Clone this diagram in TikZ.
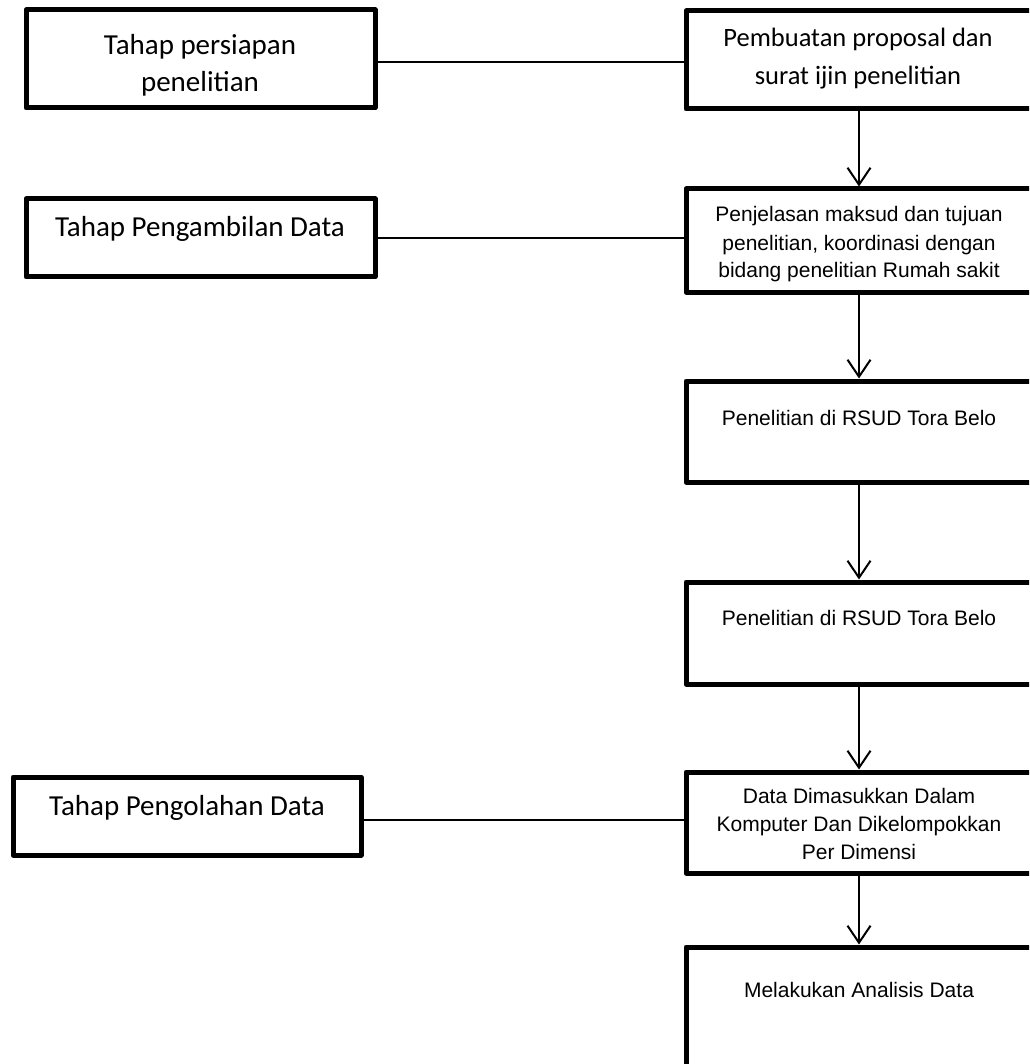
\documentclass[tikz,border=0pt]{standalone}
\usepackage{fontspec}
\newfontfamily\calfont{Carlito}
\newfontfamily\arifont{Liberation Sans}
\usetikzlibrary{arrows.meta,calc}
\tikzset{
  box/.style={draw, line width=5pt, inner sep=0pt, line join=round},
  conn/.style={line width=1.5pt},
  flow/.style={line width=2pt, -{Straight Barb[length=17pt,width=23pt,line width=2pt]}},
  caltext/.style={font=\calfont\fontsize{29}{37}\selectfont, align=center, anchor=base, inner sep=0pt},
  caltextr/.style={font=\calfont\fontsize{26.5}{38}\selectfont, align=center, anchor=base, inner sep=0pt},
  aritext/.style={font=\arifont\fontsize{21}{28}\selectfont, align=center, anchor=base, inner sep=0pt},
}
\begin{document}
\begin{tikzpicture}[x=1pt,y=-1pt]
\useasboundingbox (0,0) rectangle (1029,1064);
\clip (0,0) rectangle (1029,1064);
% left boxes
\node[box, minimum width=349pt, minimum height=98pt] (l1) at (200.5,59) {};
\node[box, minimum width=349pt, minimum height=78pt] (l2) at (200.5,238) {};
\node[box, minimum width=348pt, minimum height=78pt] (l3) at (187,816) {};
% right boxes
\node[box, minimum width=346pt, minimum height=98pt] (r1) at (859,60) {};
\node[box, minimum width=346pt, minimum height=103pt] (r2) at (859,240.5) {};
\node[box, minimum width=346pt, minimum height=101pt] (r3) at (859,431.5) {};
\node[box, minimum width=346pt, minimum height=102pt] (r4) at (859,633) {};
\node[box, minimum width=346pt, minimum height=101pt] (r5) at (859,822.5) {};
\node[box, minimum width=346pt, minimum height=153pt] (r6) at (859,1023.5) {};
% texts (multi-line nodes: base = last line's baseline)
\node[caltext] (t1) at (200,92) {Tahap persiapan\\penelitian};
\node[caltext] (t2) at (200,237) {Tahap Pengambilan Data};
\node[caltext] (t3) at (187,815) {Tahap Pengolahan Data};
\node[caltextr] (t4) at (858,85) {Pembuatan proposal dan\\surat ijin penelitian};
\node[aritext] (t5) at (859,278) {Penjelasan maksud dan tujuan\\penelitian, koordinasi dengan\\bidang penelitian Rumah sakit};
\node[aritext] (t6) at (859,425) {Penelitian di RSUD Tora Belo};
\node[aritext] (t7) at (859,625) {Penelitian di RSUD Tora Belo};
\node[aritext] (t8) at (859,859) {Data Dimasukkan Dalam\\Komputer Dan Dikelompokkan\\Per Dimensi};
\node[aritext] (t9) at (859,997) {Melakukan Analisis Data};
% connectors
\draw[conn] ([yshift=-3pt]l1.east) -- ([yshift=-3pt]l1.east -| r1.west);
\draw[conn] (l2.east) -- (l2.east -| r2.west);
\draw[conn] ([yshift=-4pt]l3.east) -- ([yshift=-4pt]l3.east -| r5.west);
% flow arrows
\draw[flow] (r1.south) -- (r2.north);
\draw[flow] (r2.south) -- (r3.north);
\draw[flow] (r3.south) -- (r4.north);
\draw[flow] (r4.south) -- (r5.north);
\draw[flow] (r5.south) -- (r6.north);
\end{tikzpicture}
\end{document}
